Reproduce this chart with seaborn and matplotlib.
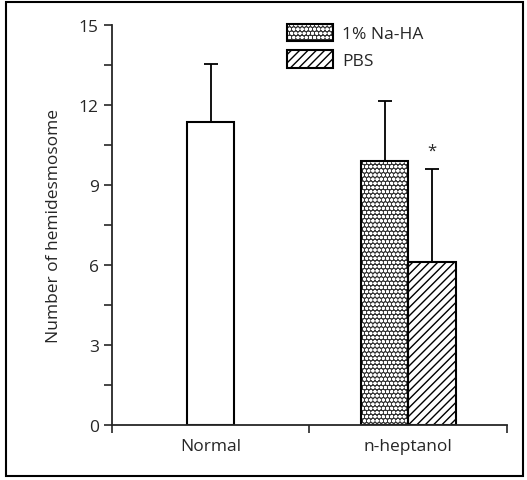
import matplotlib
matplotlib.use("Agg")
import matplotlib.pyplot as plt
import matplotlib.patches as mpatches
from matplotlib.legend_handler import HandlerTuple
from matplotlib.ticker import MultipleLocator, FixedLocator, NullFormatter
import seaborn as sns
import pandas as pd

# values
groups = ["Normal", "n-heptanol", "n-heptanol"]
treatments = ["Normal", "1% Na-HA", "PBS"]
means = [11.35, 9.9, 6.1]
errors = [2.2, 2.25, 3.5]
group_order = ["Normal", "n-heptanol"]
hue_order = ["1% Na-HA", "PBS"]
y_ticks = [0, 3, 6, 9, 12, 15]

df = pd.DataFrame({"group": groups, "treatment": treatments, "value": means, "err": errors})

sns.set_style("ticks")
plt.rcParams["font.family"] = ["Open Sans", "DejaVu Sans"]
plt.rcParams["hatch.linewidth"] = 1.0

fig = plt.figure(figsize=(5.27, 4.81), dpi=100)
ax = fig.add_axes([0.2125, 0.1143, 0.7495, 0.8317])

normal = df[df["group"] == "Normal"]
treated = df[df["group"] != "Normal"]

sns.barplot(data=normal, x="group", y="value", order=group_order,
            color="white", edgecolor="black", linewidth=1.5, width=0.24, ax=ax)
n_before = len(ax.patches)
sns.barplot(data=treated, x="group", y="value", hue="treatment", order=group_order,
            hue_order=hue_order, palette=["#333333", "white"], edgecolor="black",
            linewidth=1.5, width=0.48, dodge=True, legend=False, ax=ax)

bars = {"Normal": ax.patches[0]}
new = [p for p in ax.patches[n_before:] if p.get_height() > 0]
new.sort(key=lambda p: p.get_x())
bars["1% Na-HA"], bars["PBS"] = new[0], new[1]

# dotted crosshatch for Na-HA, diagonal lines for PBS
na = bars["1% Na-HA"]
na.set_edgecolor("white")
na.set_linewidth(0)
na.set_hatch("oooo")
ax.add_patch(mpatches.Rectangle(na.get_xy(), na.get_width(), na.get_height(),
                                fill=False, ec="black", lw=1.5, zorder=na.get_zorder() + 0.1))
bars["PBS"].set_hatch("////")

# upper error bars only
for t, m, e in zip(treatments, means, errors):
    p = bars[t]
    xc = p.get_x() + p.get_width() / 2
    ax.errorbar([xc], [m], yerr=[[0], [e]], fmt="none", ecolor="black",
                elinewidth=1.3, capsize=5, capthick=1.3, zorder=1)

pbs = bars["PBS"]
ax.text(pbs.get_x() + pbs.get_width() / 2, means[2] + errors[2] + 0.4, "*",
        ha="center", va="bottom", fontsize=12)

ax.set_ylim(0, 15)
ax.set_xlim(-0.5, 1.5)
ax.yaxis.set_major_locator(FixedLocator(y_ticks))
ax.yaxis.set_minor_locator(MultipleLocator(1.5))
ax.tick_params(axis="y", which="both", direction="out", length=6, width=1.2, labelsize=12.5)
ax.xaxis.set_major_locator(FixedLocator([-0.5, 0.5, 1.5]))
ax.xaxis.set_major_formatter(NullFormatter())
ax.xaxis.set_minor_locator(FixedLocator([0, 1]))
ax.set_xticklabels(group_order, minor=True)
ax.tick_params(axis="x", which="major", direction="out", length=6, width=1.2)
ax.tick_params(axis="x", which="minor", length=0, labelsize=12.5, pad=9)
ax.set_xlabel("")
ax.set_ylabel("Number of hemidesmosome", fontsize=12.5, labelpad=12)
sns.despine(ax=ax)
for s in ["left", "bottom"]:
    ax.spines[s].set_linewidth(1.3)

na_fill = mpatches.Patch(facecolor="#333333", edgecolor="white", hatch="oooo", lw=0)
na_edge = mpatches.Patch(fill=False, edgecolor="black", lw=1.5)
pbs_patch = mpatches.Patch(facecolor="white", edgecolor="black", hatch="////", lw=1.5)
ax.legend([(na_fill, na_edge), pbs_patch], hue_order, loc="upper left",
          bbox_to_anchor=(0.42, 1.025), frameon=False, fontsize=12.5,
          handlelength=2.7, handleheight=1.2, handletextpad=0.5, labelspacing=0.45,
          borderpad=0, handler_map={tuple: HandlerTuple(ndivide=1)})

fig.patches.append(mpatches.Rectangle((0.011, 0.008), 0.982, 0.985, transform=fig.transFigure,
                                      fill=False, ec="black", lw=1.5))

fig.savefig("out.png", dpi=100)
